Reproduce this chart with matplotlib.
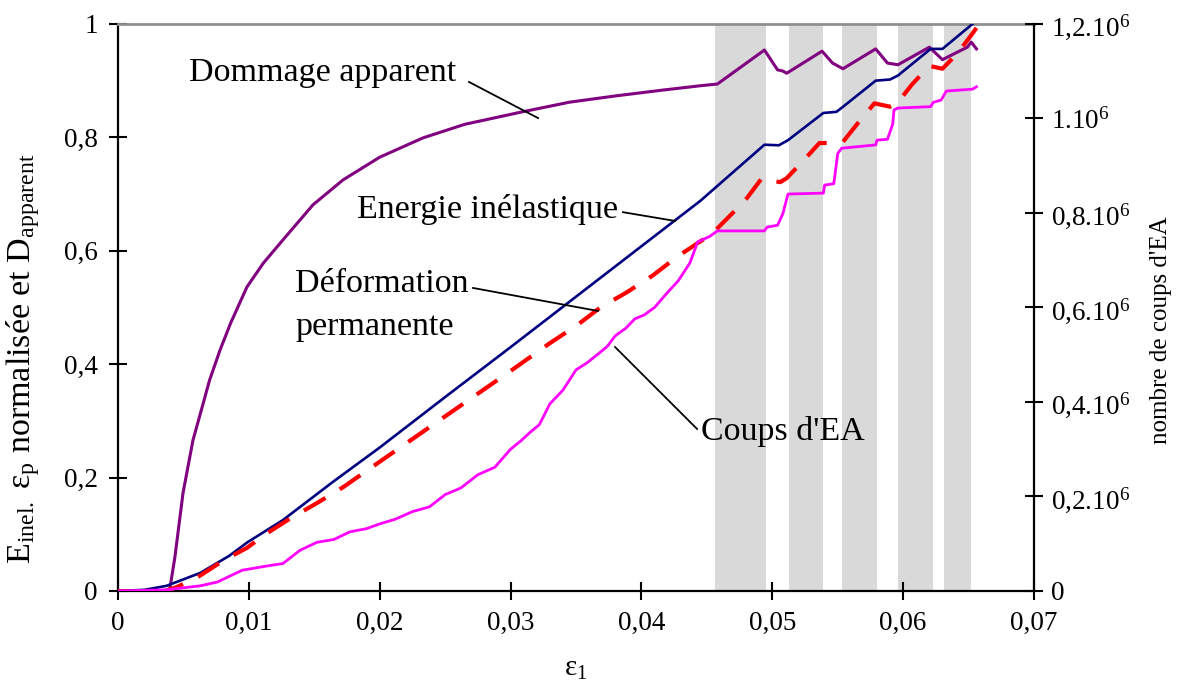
import matplotlib
matplotlib.use('Agg')
import matplotlib.pyplot as plt

plt.rcParams['font.family'] = ['Liberation Serif', 'DejaVu Serif']
plt.rcParams['mathtext.fontset'] = 'custom'
plt.rcParams['mathtext.rm'] = 'Liberation Serif'
plt.rcParams['mathtext.it'] = 'Liberation Serif:italic'
plt.rcParams['mathtext.bf'] = 'Liberation Serif:bold'

# Energie inelastique (normalisee)
x_energie = [0, 0.002, 0.0037, 0.0063, 0.0085, 0.0099, 0.0126, 0.0164, 0.020, 0.025,
             0.030, 0.035, 0.040, 0.0445, 0.0494, 0.0505, 0.0512, 0.0539, 0.0549, 0.0553,
             0.0579, 0.0590, 0.0596, 0.0621, 0.0630, 0.0653]
y_energie = [0, 0.002, 0.009, 0.032, 0.062, 0.086, 0.125, 0.192, 0.253, 0.342,
             0.430, 0.519, 0.608, 0.688, 0.787, 0.786, 0.795, 0.843, 0.845, 0.852,
             0.900, 0.902, 0.909, 0.956, 0.956, 1.0]

# Dommage apparent
x_dommage = [0, 0.0037, 0.00397, 0.00435, 0.00497, 0.00573, 0.0065, 0.0070, 0.0078, 0.0086,
             0.00985, 0.0111, 0.0126, 0.0149, 0.0172, 0.020, 0.0233, 0.0265, 0.0309, 0.0345,
             0.038, 0.0415, 0.0445, 0.0458, 0.0494, 0.0504, 0.0508, 0.0511, 0.0538, 0.0546,
             0.0554, 0.0579, 0.0588, 0.0596, 0.0620, 0.0630, 0.0649, 0.0652, 0.0656]
y_dommage = [0, 0, 0.005, 0.06, 0.173, 0.266, 0.33, 0.372, 0.425, 0.472,
             0.536, 0.578, 0.619, 0.681, 0.725, 0.765, 0.799, 0.823, 0.845, 0.862,
             0.873, 0.883, 0.891, 0.894, 0.954, 0.919, 0.917, 0.913, 0.952, 0.931,
             0.921, 0.956, 0.931, 0.928, 0.959, 0.937, 0.959, 0.968, 0.956]

# Deformation permanente (normalisee)
x_deform = [0, 0.00115, 0.0032, 0.0045, 0.006, 0.008, 0.00985, 0.0114, 0.0131, 0.0152,
            0.0172, 0.020, 0.025, 0.030, 0.033, 0.0351, 0.0368, 0.0389, 0.0409, 0.0427,
            0.0442, 0.0454, 0.0466, 0.0479, 0.0492, 0.0496, 0.0506, 0.0511, 0.0523, 0.0536,
            0.0544, 0.0554, 0.0565, 0.0578, 0.0590, 0.0595, 0.0607, 0.0620, 0.0630, 0.0641,
            0.0651, 0.0656]
y_deform = [0, -0.002, -0.003, 0.007, 0.023, 0.053, 0.076, 0.102, 0.127, 0.155,
            0.183, 0.228, 0.308, 0.388, 0.437, 0.469, 0.499, 0.527, 0.557, 0.589,
            0.612, 0.630, 0.658, 0.688, 0.728, 0.725, 0.721, 0.728, 0.757, 0.790,
            0.790, 0.792, 0.824, 0.860, 0.854, 0.859, 0.894, 0.926, 0.921, 0.947,
            0.977, 0.993]

# Coups d'EA (en 10^6)
x_coups = [0, 0.0037, 0.0063, 0.0076, 0.0095, 0.0114, 0.0126, 0.0139, 0.0152, 0.0165,
           0.0177, 0.019, 0.020, 0.0212, 0.0225, 0.0238, 0.025, 0.0262, 0.0275, 0.0288,
           0.030, 0.0308, 0.0315, 0.0322, 0.033, 0.034, 0.035, 0.0358, 0.0368, 0.0374,
           0.038, 0.0388, 0.0395, 0.0402, 0.041, 0.042, 0.0428, 0.0437, 0.0443, 0.0452,
           0.0458, 0.0494, 0.0496, 0.0504, 0.0508, 0.0512, 0.0539, 0.0540, 0.0547, 0.0550,
           0.0553, 0.0579, 0.0580, 0.0588, 0.0592, 0.0593, 0.0596, 0.0621, 0.0623, 0.0629,
           0.0633, 0.0653, 0.0656]
y_coups = [0, 0.0024, 0.011, 0.019, 0.044, 0.053, 0.058, 0.086, 0.103, 0.109,
           0.125, 0.132, 0.142, 0.152, 0.168, 0.178, 0.204, 0.218, 0.246, 0.262,
           0.300, 0.318, 0.336, 0.352, 0.396, 0.425, 0.468, 0.482, 0.504, 0.518,
           0.540, 0.556, 0.576, 0.584, 0.600, 0.632, 0.656, 0.694, 0.739, 0.750,
           0.762, 0.762, 0.770, 0.774, 0.798, 0.840, 0.842, 0.859, 0.862, 0.926,
           0.937, 0.944, 0.954, 0.956, 0.988, 1.018, 1.022, 1.025, 1.034, 1.039,
           1.058, 1.062, 1.067]

# zones grisees
bandes = [(0.0456, 0.0495), (0.0513, 0.0539), (0.0553, 0.0580), (0.0596, 0.0623), (0.0631, 0.0652)]

x_ticks = [0, 0.01, 0.02, 0.03, 0.04, 0.05, 0.06, 0.07]
x_labels = ['0', '0,01', '0,02', '0,03', '0,04', '0,05', '0,06', '0,07']
y_ticks = [0, 0.2, 0.4, 0.6, 0.8, 1.0]
y_labels = ['0', '0,2', '0,4', '0,6', '0,8', '1']
y2_ticks = [0, 0.2, 0.4, 0.6, 0.8, 1.0, 1.2]
y2_labels = ['0', '0,2.10$^6$', '0,4.10$^6$', '0,6.10$^6$', '0,8.10$^6$', '1.10$^6$', '1,2.10$^6$']

fig = plt.figure(figsize=(11.8, 6.84), dpi=100)
ax = fig.add_axes([0.1, 0.136, 0.7763, 0.829])
ax2 = ax.twinx()

for a, b in bandes:
    ax.axvspan(a, b, color='#d9d9d9', lw=0, zorder=0)

ax.plot(x_dommage, y_dommage, color='#800080', lw=2.2, zorder=3)
ax.plot(x_energie, y_energie, color='#000080', lw=1.9, zorder=3)
ax.plot(x_deform, y_deform, color='#ff0000', lw=3.0, ls=(0, (6, 4)), zorder=4)
ax2.plot(x_coups, y_coups, color='#ff00ff', lw=2.0)

ax.set_xlim(0, 0.07)
ax.set_ylim(0, 1)
ax2.set_ylim(0, 1.2)

ax.set_xticks(x_ticks)
ax.set_xticklabels(x_labels)
ax.set_yticks(y_ticks)
ax.set_yticklabels(y_labels)
ax2.set_yticks(y2_ticks)
ax2.set_yticklabels(y2_labels)

ax.tick_params(axis='both', direction='inout', length=13, width=1.5, labelsize=19.5, pad=8)
ax2.tick_params(axis='y', direction='inout', length=13, width=1.5, labelsize=19.5, pad=6)

for s in ['left', 'bottom']:
    ax.spines[s].set_linewidth(1.6)
ax.spines['right'].set_visible(False)
ax.spines['top'].set_color('#909090')
ax.spines['top'].set_linewidth(2)
for s in ['left', 'bottom', 'top']:
    ax2.spines[s].set_visible(False)
ax2.spines['right'].set_linewidth(1.6)

ax.set_xlabel('ε$_1$', fontsize=21, labelpad=14)
ax.set_ylabel(r'E$_{\mathrm{inel.}}$ ε$_\mathrm{p}$ normalisée et D$_{\mathrm{apparent}}$', fontsize=24.5)
ax.yaxis.set_label_coords(-0.083, 0.41)
ax2.set_ylabel("nombre de coups d'EA", fontsize=18)
ax2.yaxis.set_label_coords(1.1266, 0.46)

# annotations
kw = dict(fontsize=24.5, zorder=6)
ax.text(0.01567, 0.9136, 'Dommage apparent', ha='center', va='center', **kw)
ax.plot([0.02682, 0.0321], [0.8977, 0.834], color='black', lw=1.3, zorder=5)
ax.text(0.0282, 0.672, 'Energie inélastique', ha='center', va='center', **kw)
ax.plot([0.03859, 0.04256], [0.668, 0.6526], color='black', lw=1.3, zorder=5)
ax.text(0.01353, 0.504, 'Déformation\npermanente', ha='left', va='center', linespacing=1.55, **kw)
ax.plot([0.02713, 0.03668], [0.5344, 0.4938], color='black', lw=1.3, zorder=5)
ax.text(0.05082, 0.2804, "Coups d'EA", ha='center', va='center', **kw)
ax.plot([0.04425, 0.03798], [0.2857, 0.4303], color='black', lw=1.3, zorder=5)

fig.savefig('out.png', dpi=100)
